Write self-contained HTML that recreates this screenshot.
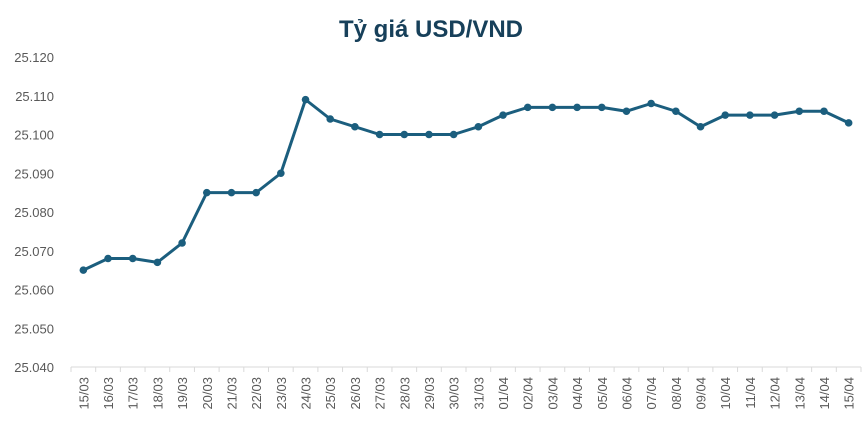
<!DOCTYPE html>
<html><head><meta charset="utf-8"><style>
body{margin:0;background:#fff;}
svg{display:block;font-family:"Liberation Sans",sans-serif;}
</style></head><body>
<svg id="chart" width="863" height="431">
<text x="431" y="37" text-anchor="middle" font-size="24" font-weight="bold" fill="#17405a" font-family="'Liberation Sans','DejaVu Sans',sans-serif">Tỷ giá USD/VND</text>
<g id="yaxis"></g>
<g id="xaxis"></g>
<g id="series"></g>
</svg>
<script>
const categories=["15/03","16/03","17/03","18/03","19/03","20/03","21/03","22/03","23/03","24/03","25/03","26/03","27/03","28/03","29/03","30/03","31/03","01/04","02/04","03/04","04/04","05/04","06/04","07/04","08/04","09/04","10/04","11/04","12/04","13/04","14/04","15/04"];
const values=[25065,25068,25068,25067,25072,25085,25085,25085,25090,25109,25104,25102,25100,25100,25100,25100,25102,25105,25107,25107,25107,25107,25106,25108,25106,25102,25105,25105,25105,25106,25106,25103];
const yTicks=[25040,25050,25060,25070,25080,25090,25100,25110,25120];
const yTickLabels=["25.040","25.050","25.060","25.070","25.080","25.090","25.100","25.110","25.120"];
const NS="http://www.w3.org/2000/svg";
const L=71,R=861,T=57,B=367,yMin=25040,yMax=25120;
const step=(R-L)/categories.length;
const x=i=>L+step*(i+0.5);
const y=v=>B-(v-yMin)/(yMax-yMin)*(B-T);
function mk(tag,attrs,parent){const e=document.createElementNS(NS,tag);for(const k in attrs)e.setAttribute(k,attrs[k]);parent.appendChild(e);return e;}
const ya=document.getElementById('yaxis'),xa=document.getElementById('xaxis'),se=document.getElementById('series');
yTicks.forEach((v,i)=>{const t=mk('text',{x:54,y:y(v)+5,'text-anchor':'end','font-size':13,fill:'#595959'},ya);t.textContent=yTickLabels[i];

});
const ax=mk('line',{x1:L,x2:R,y1:B,y2:B,stroke:'#d9d9d9','stroke-width':1},xa);


for(let i=0;i<=categories.length;i++){const tk=mk('line',{x1:L+step*i,x2:L+step*i,y1:B,y2:B+5,stroke:'#d9d9d9'},xa);

}
categories.forEach((c,i)=>{const t=mk('text',{transform:`translate(${x(i)+5},${B+10}) rotate(-90)`,'text-anchor':'end','font-size':13,fill:'#595959'},xa);t.textContent=c;

});
const pl=mk('polyline',{points:values.map((v,i)=>x(i)+','+y(v)).join(' '),fill:'none',stroke:'#1b5e7e','stroke-width':3,'stroke-linejoin':'round'},se);


values.forEach((v,i)=>{const c=mk('circle',{cx:x(i),cy:y(v),r:3.8,fill:'#1b5e7e'},se);

});
</script>
</body></html>
